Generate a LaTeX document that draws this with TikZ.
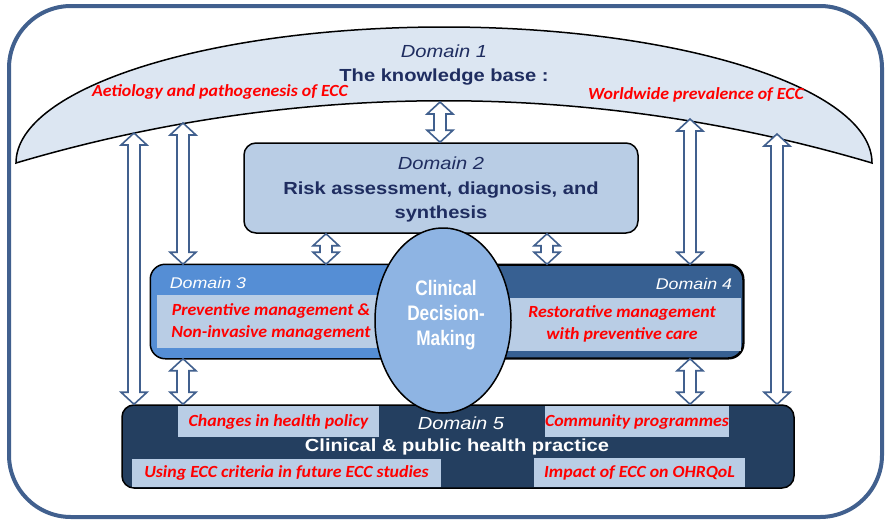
\documentclass[tikz,border=0pt]{standalone}
\usepackage{fontspec}
\setmainfont[FakeStretch=1.15]{Liberation Sans}
\newfontfamily\narrowfont[FakeStretch=0.82]{Liberation Sans}
\newfontfamily\notefont[FakeStretch=1.05]{Carlito}
\usetikzlibrary{shapes,calc,positioning}
\definecolor{framecol}{RGB}{65,96,142}
\definecolor{kbfill}{RGB}{220,230,242}
\definecolor{riskfill}{RGB}{185,205,229}
\definecolor{prevfill}{RGB}{85,142,213}
\definecolor{restfill}{RGB}{55,96,146}
\definecolor{cdmfill}{RGB}{142,180,227}
\definecolor{practfill}{RGB}{36,63,96}
\definecolor{titlecol}{RGB}{31,45,96}
\tikzset{
        domainbox/.style = {draw, line width=1.5pt, rounded corners=12pt, inner sep=0pt},
        titletext/.style = {text=titlecol, align=center, font=\fontsize{17.5}{24.5}\selectfont},
        dlabel/.style = {text=white, font=\itshape\fontsize{15.5}{18}\selectfont},
        notetext/.style = {text=red, align=center, inner sep=0pt, font=\notefont\bfseries\itshape\fontsize{17}{22}\selectfont},
        notebox/.style = {notetext, fill=riskfill},
        twowayarrow/.style = {draw=framecol, fill=white, line width=1.6pt, line join=miter},
    }
\newcommand{\twoway}[2]{%
    \draw [twowayarrow] let \p1=(#1), \p2=(#2) in
        (\x1,\y1) -- (\x1+13pt,\y1-12pt) -- (\x1+6pt,\y1-12pt) -- (\x1+6pt,\y2+12pt)
        -- (\x1+13pt,\y2+12pt) -- (\x1,\y2) -- (\x1-13pt,\y2+12pt) -- (\x1-6pt,\y2+12pt)
        -- (\x1-6pt,\y1-12pt) -- (\x1-13pt,\y1-12pt) -- cycle;}

\begin{document}
\begin{tikzpicture}[x=1pt, y=-1pt]
    \useasboundingbox (0,0) rectangle (885,522);
    \draw [framecol, line width=4pt, rounded corners=62pt] (9,6) rectangle (882,517);

    % domain 1
    \draw [fill=kbfill, line width=1.5pt] (16,163) .. controls (16,88) and (208,27) .. (444,27)
        .. controls (680,27) and (872,88) .. (872,163)
        .. controls (592,80) and (296,80) .. (16,163) -- cycle;
    \node [titletext] (d1) at (444,65) {{\itshape Domain 1}\\ \bfseries The knowledge base :};
    \node [notetext] (aetio) at (220,92) {Aetiology and pathogenesis of ECC};
    \node [notetext] (preval) at (696,95) {Worldwide prevalence of ECC};
    \coordinate (k1) at (134,133);
    \coordinate (k2) at (183,123);
    \coordinate (k3) at (440,102);
    \coordinate (k4) at (690,119);
    \coordinate (k5) at (777,134);

    % domain 2
    \node [domainbox, fill=riskfill, minimum width=394pt, minimum height=90pt] (d2) at (441,188) {};
    \node [titletext] (d2text) at (441,189.5) {{\itshape Domain 2}\\ \bfseries Risk assessment, diagnosis, and\\ \bfseries synthesis};

    % domains 3 and 4
    \node [domainbox, fill=restfill, rounded corners=15pt, minimum width=592pt, minimum height=93pt] (d34) at (447,311.5) {};
    \fill [prevfill, rounded corners=15pt] (d34.north west) rectangle ($(d34.south)+(-7,0)$);
    \draw [line width=1.5pt, rounded corners=15pt] (d34.north west) rectangle (d34.south east);
    \node [fill=riskfill, minimum width=283pt, minimum height=53pt, inner sep=0pt] (band3) at (298.5,321.5) {};
    \node [fill=riskfill, minimum width=296pt, minimum height=53pt, inner sep=0pt] (band4) at (593,324.5) {};
    \node [dlabel] (lab3) at (208,283) {Domain 3};
    \node [dlabel] (lab4) at (694,284) {Domain 4};
    \node [notetext] (prev) at (271,322) {Preventive management \&\\ Non-invasive management};
    \node [notetext] (rest) at (622,323.5) {Restorative management\\ with preventive care};

    % domain 5
    \node [domainbox, fill=practfill, minimum width=672pt, minimum height=83pt] (d5) at (458,446.5) {};
    \node [notebox, minimum width=201pt, minimum height=31pt] (policy) at (278.5,421.5) {Changes in health policy};
    \node [notebox, minimum width=181pt, minimum height=31pt] (commun) at (637,421.5) {Community programmes};
    \node [notebox, minimum width=309pt, minimum height=28pt] (criteria) at (286.5,473) {Using ECC criteria in future ECC studies};
    \node [notebox, minimum width=211pt, minimum height=29pt] (ohrqol) at (639.5,472.5) {Impact of ECC on OHRQoL};
    \node [dlabel, font=\itshape\fontsize{17.5}{20}\selectfont] (lab5) at (461,423) {Domain 5};
    \node [text=white, font=\bfseries\fontsize{17.5}{20}\selectfont] (d5text) at (457,447) {Clinical \& public health practice};

    % clinical decision-making
    \node [ellipse, draw, line width=1.5pt, fill=cdmfill, minimum width=136pt, minimum height=185pt] (cdm) at (443,320.5) {};
    \node [text=white, align=center, font=\narrowfont\bfseries\fontsize{21}{25}\selectfont] (cdmtext) at (446,315.5) {Clinical\\ Decision-\\ Making};

    % arrows
    \twoway{k1}{d5.north}
    \twoway{k2}{d34.north}
    \twoway{k3}{d2.north}
    \twoway{k4}{d34.north}
    \twoway{k5}{d5.north}
    \twoway{$(d2.south)+(-115,0)$}{d34.north}
    \twoway{$(d2.south)+(106,0)$}{d34.north}
    \twoway{k2 |- d34.south}{d5.north}
    \twoway{k4 |- d34.south}{d5.north}
\end{tikzpicture}
\end{document}
